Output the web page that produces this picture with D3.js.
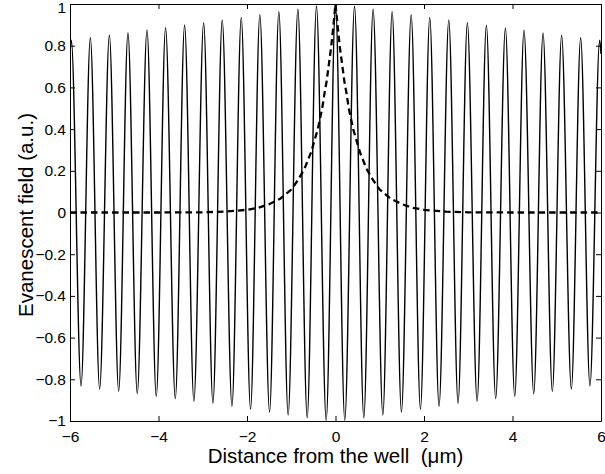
<!DOCTYPE html>
<html>
<head>
<meta charset="utf-8">
<script src="https://cdn.jsdelivr.net/npm/d3@7"></script>
<style>
  body { margin: 0; background: #fff; }
  text { font-family: "Liberation Sans", Arial, Helvetica, sans-serif; fill: #000; }
  .axis path, .axis line { stroke: #000; stroke-width: 1; }
</style>
</head>
<body>
<div id="chart"></div>
<script>
// oscillating field: maxima and minima (x in um)
var peakX = [-5.97, -5.54, -5.11, -4.69, -4.26, -3.84, -3.41, -2.98, -2.56, -2.13, -1.71, -1.28, -0.85, -0.43, 0,
             0.43, 0.85, 1.28, 1.71, 2.13, 2.56, 2.98, 3.41, 3.84, 4.26, 4.69, 5.11, 5.54, 5.97];
var peakY = [0.826, 0.838, 0.850, 0.862, 0.876, 0.886, 0.899, 0.910, 0.923, 0.936, 0.949, 0.963, 0.975, 0.989, 1.0,
             0.989, 0.975, 0.963, 0.949, 0.936, 0.923, 0.910, 0.898, 0.885, 0.874, 0.861, 0.850, 0.838, 0.826];
var troughX = [-5.75, -5.33, -4.90, -4.48, -4.05, -3.62, -3.20, -2.77, -2.34, -1.92, -1.49, -1.07, -0.64, -0.21,
               0.21, 0.64, 1.07, 1.49, 1.92, 2.34, 2.77, 3.20, 3.62, 4.05, 4.48, 4.90, 5.33, 5.75];
var troughY = [-0.832, -0.847, -0.858, -0.869, -0.882, -0.893, -0.906, -0.915, -0.930, -0.944, -0.957, -0.971, -0.984, -0.997,
               -0.997, -0.984, -0.971, -0.957, -0.944, -0.930, -0.915, -0.906, -0.893, -0.882, -0.869, -0.858, -0.847, -0.831];
var edgeX = [-6, 6];
var edgeY = [0.76, 0.76];

// evanescent decay (dashed)
var decayX = [-6, -4, -3, -2.5, -2, -1.75, -1.5, -1.25, -1, -0.85, -0.7, -0.55, -0.4, -0.3, -0.25, -0.2, -0.15, -0.1, -0.05, 0,
              0.05, 0.1, 0.15, 0.2, 0.25, 0.3, 0.4, 0.55, 0.7, 0.85, 1, 1.25, 1.5, 1.75, 2, 2.5, 3, 4, 6];
var decayY = [0, 0, 0.001, 0.004, 0.013, 0.022, 0.04, 0.066, 0.11, 0.155, 0.21, 0.29, 0.4, 0.5, 0.57, 0.63, 0.71, 0.79, 0.89, 1,
              0.89, 0.79, 0.71, 0.63, 0.57, 0.5, 0.4, 0.29, 0.21, 0.155, 0.11, 0.066, 0.04, 0.022, 0.013, 0.004, 0.001, 0, 0];

var xTicks = [-6, -4, -2, 0, 2, 4, 6];
var xTickLabels = ["\u22126", "\u22124", "\u22122", "0", "2", "4", "6"];
var yTicks = [-1, -0.8, -0.6, -0.4, -0.2, 0, 0.2, 0.4, 0.6, 0.8, 1];
var yTickLabels = ["\u22121", "\u22120.8", "\u22120.6", "\u22120.4", "\u22120.2", "0", "0.2", "0.4", "0.6", "0.8", "1"];

var margin = {top: 4, right: 4, bottom: 53, left: 70},
    width = 605 - margin.left - margin.right,
    height = 474 - margin.top - margin.bottom;

var svg = d3.select("#chart")
  .append("svg")
    .attr("width", 605)
    .attr("height", 474)
  .append("g")
    .attr("transform", "translate(" + margin.left + "," + margin.top + ")");

var x = d3.scaleLinear().domain([-6, 6]).range([0, width]);
var y = d3.scaleLinear().domain([-1, 1]).range([height, 0]);

svg.append("clipPath").attr("id", "plotclip")
  .append("rect").attr("width", width).attr("height", height);

// merge extrema into one ordered series
var wave = [];
peakX.forEach(function(d, i) { wave.push([d, peakY[i]]); });
troughX.forEach(function(d, i) { wave.push([d, troughY[i]]); });
edgeX.forEach(function(d, i) { wave.push([d, edgeY[i]]); });
wave.sort(function(a, b) { return a[0] - b[0]; });

var decay = decayX.map(function(d, i) { return [d, decayY[i]]; });

var plot = svg.append("g").attr("clip-path", "url(#plotclip)");

plot.append("path")
  .datum(wave)
  .attr("fill", "none")
  .attr("stroke", "#000")
  .attr("stroke-width", 1.4)
  .attr("d", d3.line()
    .x(function(d) { return x(d[0]); })
    .y(function(d) { return y(d[1]); })
    .curve(d3.curveMonotoneX));

plot.append("path")
  .datum(decay)
  .attr("fill", "none")
  .attr("stroke", "#000")
  .attr("stroke-width", 2.3)
  .attr("stroke-dasharray", "6.5,4")
  .attr("d", d3.line()
    .x(function(d) { return x(d[0]); })
    .y(function(d) { return y(d[1]); }));

// axes, MATLAB style box with inward ticks
svg.append("g")
  .attr("class", "axis")
  .attr("transform", "translate(0," + height + ")")
  .call(d3.axisBottom(x).tickValues(xTicks).tickSizeInner(-5).tickSizeOuter(0).tickPadding(9.5)
    .tickFormat(function(d, i) { return xTickLabels[i]; }));

var yAxis = svg.append("g")
  .attr("class", "axis")
  .call(d3.axisLeft(y).tickValues(yTicks).tickSizeInner(-5).tickSizeOuter(0).tickPadding(4)
    .tickFormat(function(d, i) { return yTickLabels[i]; }));

// keep the top label inside the page
yAxis.selectAll("text").filter(function(d) { return d === 1; }).attr("dy", "0.52em");

svg.append("g")
  .attr("class", "axis")
  .call(d3.axisTop(x).tickValues(xTicks).tickSizeInner(-5).tickSizeOuter(0).tickFormat(""));

svg.append("g")
  .attr("class", "axis")
  .attr("transform", "translate(" + width + ",0)")
  .call(d3.axisRight(y).tickValues(yTicks).tickSizeInner(-5).tickSizeOuter(0).tickFormat(""));

svg.selectAll(".axis text")
  .style("font-family", "'Liberation Sans', Arial, sans-serif")
  .style("font-size", "15.5px")
  .attr("fill", "#000");

// axis labels
svg.append("text")
  .attr("text-anchor", "middle")
  .attr("x", width / 2)
  .attr("y", 458.5)
  .style("font-size", "20.5px")
  .text("Distance from the well\u00a0\u00a0(\u03bcm)");

svg.append("text")
  .attr("transform", "rotate(-90)")
  .attr("text-anchor", "middle")
  .attr("x", -211)
  .attr("y", 33 - margin.left)
  .style("font-size", "20.5px")
  .text("Evanescent field (a.u.)");
</script>
</body>
</html>
